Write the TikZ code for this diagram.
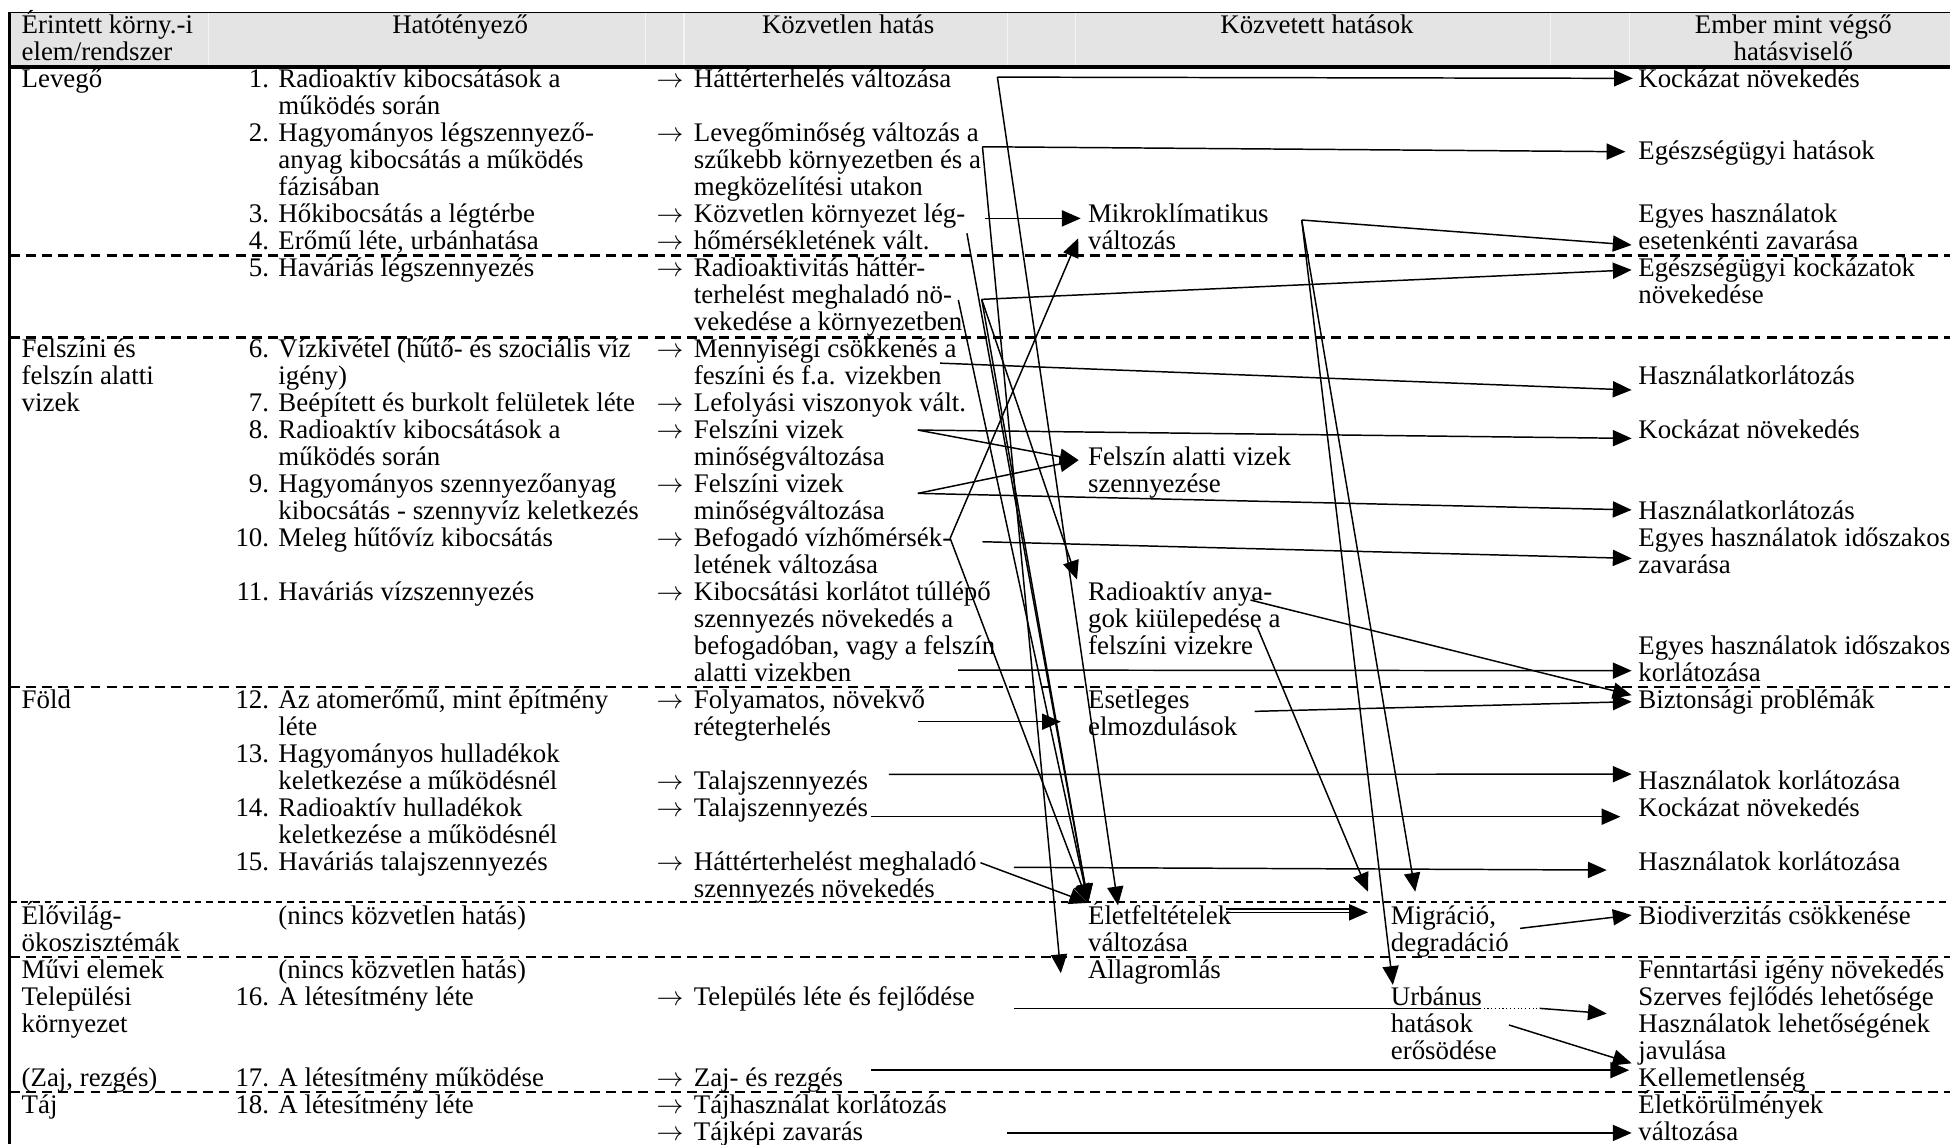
\documentclass[tikz,border=0pt]{standalone}
\usepackage{fontspec}
\setmainfont{Liberation Serif}
\usetikzlibrary{arrows.meta}
\definecolor{fejlec}{HTML}{E4E4E4}
\definecolor{fejlecvonal}{HTML}{F4F4F4}
\newcommand{\betu}{\fontsize{10pt}{10.05pt}\selectfont}
\newcommand{\nyil}{\llap{$\rightarrow$\hspace{3.9pt}}}
\newcommand{\szam}[1]{\llap{#1\hspace{3.5pt}}}
% tobbsoros csomopontoknal a base az utolso sor alapvonala
\tikzset{
  szoveg/.style={inner sep=0pt, anchor=base west, align=left, font=\betu},
  fejszoveg/.style={inner sep=0pt, anchor=base, align=center, font=\betu},
  hat/.style={-{Triangle[length=7pt,width=6pt]}, line width=0.55pt},
  vonal/.style={line width=0.55pt},
  pontozott/.style={line width=0.4pt, densely dotted},
  elvalaszto/.style={line width=0.9pt, dash pattern=on 3.7pt off 2.3pt},
  elvalasztovekony/.style={line width=0.6pt, dash pattern=on 2.5pt off 1.8pt}
}
\begin{document}
\begin{tikzpicture}[x=0.463pt, y=-0.463pt]
  \useasboundingbox (0,0) rectangle (1568,920);

  % fejlec
  \fill[fejlec] (8,10) rectangle (1568,54);
  \draw[fejlecvonal, line width=0.4pt] (168,10) -- (168,54) (519,10) -- (519,54)
    (550,10) -- (550,54) (810,10) -- (810,54) (865,10) -- (865,54)
    (1247,10) -- (1247,54) (1310,10) -- (1310,54);
  \draw[line width=0.6pt] (8,10) -- (1568,10);
  \draw[line width=1.5pt] (8,54) -- (1568,54);
  \draw[line width=1.1pt] (8,10) -- (8,920);

  \node[szoveg] (fe1) at (17,48.8) {Érintett körny.-i\\elem/rendszer};
  \node[fejszoveg] (fe2) at (370,27.1) {Hatótényező};
  \node[fejszoveg] (fe3) at (682,27.1) {Közvetlen hatás};
  \node[fejszoveg] (fe4) at (1059,27.1) {Közvetett hatások};
  \node[fejszoveg] (fe5) at (1442,48.8) {Ember mint végső\\hatásviselő};

  % elvalasztok
  \draw[elvalaszto] (8,205.5) -- (1568,205.5);
  \draw[elvalaszto] (8,271.5) -- (1568,271.5);
  \draw[elvalaszto] (8,552.5) -- (1568,552.5);
  \draw[elvalasztovekony] (8,725.5) -- (1568,725.5);
  \draw[elvalaszto] (8,769.5) -- (1568,769.5);
  \draw[elvalaszto] (8,878) -- (1568,878);

  % kornyezeti elemek
  \node[szoveg] (el1) at (17,70.5) {Levegő};
  \node[szoveg] (el2) at (17,330.9) {Felszíni és\\felszín alatti\\vizek};
  \node[szoveg] (el3) at (17,569.6) {Föld};
  \node[szoveg] (el4) at (17,764.9) {Élővilág-\\ökoszisztémák};
  \node[szoveg] (el5) at (17,830.0) {Művi elemek\\Települési\\környezet};
  \node[szoveg] (el6) at (17,873.4) {(Zaj, rezgés)};
  \node[szoveg] (el7) at (17,895.1) {Táj};

  % hatotenyezok
  \node[szoveg] (ht1) at (223.5,92.2) {\szam{1.}Radioaktív kibocsátások a\\működés során};
  \node[szoveg] (ht2) at (223.5,157.3) {\szam{2.}Hagyományos légszennyező-\\anyag kibocsátás a működés\\fázisában};
  \node[szoveg] (ht3) at (223.5,179.0) {\szam{3.}Hőkibocsátás a légtérbe};
  \node[szoveg] (ht4) at (223.5,200.7) {\szam{4.}Erőmű léte, urbánhatása};
  \node[szoveg] (ht5) at (223.5,222.4) {\szam{5.}Haváriás légszennyezés};
  \node[szoveg] (ht6) at (223.5,309.2) {\szam{6.}Vízkivétel (hűtő- és szociális víz\\igény)};
  \node[szoveg] (ht7) at (223.5,330.9) {\szam{7.}Beépített és burkolt felületek léte};
  \node[szoveg] (ht8) at (223.5,374.3) {\szam{8.}Radioaktív kibocsátások a\\működés során};
  \node[szoveg] (ht9) at (223.5,417.7) {\szam{9.}Hagyományos szennyezőanyag\\kibocsátás - szennyvíz keletkezés};
  \node[szoveg] (ht10) at (223.5,439.4) {\szam{10.}Meleg hűtővíz kibocsátás};
  \node[szoveg] (ht11) at (223.5,482.8) {\szam{11.}Haváriás vízszennyezés};
  \node[szoveg] (ht12) at (223.5,591.3) {\szam{12.}Az atomerőmű, mint építmény\\léte};
  \node[szoveg] (ht13) at (223.5,634.7) {\szam{13.}Hagyományos hulladékok\\keletkezése a működésnél};
  \node[szoveg] (ht14) at (223.5,678.1) {\szam{14.}Radioaktív hulladékok\\keletkezése a működésnél};
  \node[szoveg] (ht15) at (223.5,699.8) {\szam{15.}Haváriás talajszennyezés};
  \node[szoveg] (nk1) at (223.5,743.2) {(nincs közvetlen hatás)};
  \node[szoveg] (nk2) at (223.5,786.6) {(nincs közvetlen hatás)};
  \node[szoveg] (ht16) at (223.5,808.3) {\szam{16.}A létesítmény léte};
  \node[szoveg] (ht17) at (223.5,873.4) {\szam{17.}A létesítmény működése};
  \node[szoveg] (ht18) at (223.5,895.1) {\szam{18.}A létesítmény léte};

  % kozvetlen hatasok
  \node[szoveg] (kh1) at (557.5,70.5) {\nyil Háttérterhelés változása};
  \node[szoveg] (kh2) at (557.5,157.3) {\nyil Levegőminőség változás a\\szűkebb környezetben és a\\megközelítési utakon};
  \node[szoveg] (kh3) at (557.5,200.7) {\nyil Közvetlen környezet lég-\\\nyil hőmérsékletének vált.};
  \node[szoveg] (kh5) at (557.5,265.8) {\nyil Radioaktivitás háttér-\\terhelést meghaladó nö-\\vekedése a környezetben};
  \node[szoveg] (kh6) at (557.5,309.2) {\nyil Mennyiségi csökkenés a\\feszíni és f.a. vizekben};
  \node[szoveg] (kh7) at (557.5,330.9) {\nyil Lefolyási viszonyok vált.};
  \node[szoveg] (kh8) at (557.5,374.3) {\nyil Felszíni vizek\\minőségváltozása};
  \node[szoveg] (kh9) at (557.5,417.7) {\nyil Felszíni vizek\\minőségváltozása};
  \node[szoveg] (kh10) at (557.5,461.1) {\nyil Befogadó vízhőmérsék-\\letének változása};
  \node[szoveg] (kh11) at (557.5,547.9) {\nyil Kibocsátási korlátot túllépő\\szennyezés növekedés a\\befogadóban, vagy a felszín\\alatti vizekben};
  \node[szoveg] (kh12) at (557.5,591.3) {\nyil Folyamatos, növekvő\\rétegterhelés};
  \node[szoveg] (kh13) at (557.5,634.7) {\nyil Talajszennyezés};
  \node[szoveg] (kh14) at (557.5,656.4) {\nyil Talajszennyezés};
  \node[szoveg] (kh15) at (557.5,721.5) {\nyil Háttérterhelést meghaladó\\szennyezés növekedés};
  \node[szoveg] (kh16) at (557.5,808.3) {\nyil Település léte és fejlődése};
  \node[szoveg] (kh17) at (557.5,873.4) {\nyil Zaj- és rezgés};
  \node[szoveg] (kh18) at (557.5,916.8) {\nyil Tájhasználat korlátozás\\\nyil Tájképi zavarás};

  % kozvetett hatasok
  \node[szoveg] (kv1) at (874.5,200.7) {Mikroklímatikus\\változás};
  \node[szoveg] (kv2) at (874.5,396.0) {Felszín alatti vizek\\szennyezése};
  \node[szoveg] (kv3) at (874.5,526.2) {Radioaktív anya-\\gok kiülepedése a\\felszíni vizekre};
  \node[szoveg] (kv4) at (874.5,591.3) {Esetleges\\elmozdulások};
  \node[szoveg] (kv5) at (874.5,764.9) {Életfeltételek\\változása};
  \node[szoveg] (kv6) at (874.5,786.6) {Allagromlás};
  \node[szoveg] (kv7) at (1118,764.9) {Migráció,\\degradáció};
  \node[szoveg] (kv8) at (1118,851.7) {Urbánus\\hatások\\erősödése};

  % ember mint vegso hatasviselo
  \node[szoveg] (em1) at (1317,70.5) {Kockázat növekedés};
  \node[szoveg] (em2) at (1317,128) {Egészségügyi hatások};
  \node[szoveg] (em3) at (1317,200.7) {Egyes használatok\\esetenkénti zavarása};
  \node[szoveg] (em4) at (1317,244.1) {Egészségügyi kockázatok\\növekedése};
  \node[szoveg] (em5) at (1317,309.2) {Használatkorlátozás};
  \node[szoveg] (em6) at (1317,352.6) {Kockázat növekedés};
  \node[szoveg] (em7) at (1317,417.7) {Használatkorlátozás};
  \node[szoveg] (em8) at (1317,461.1) {Egyes használatok időszakos\\zavarása};
  \node[szoveg] (em9) at (1317,547.9) {Egyes használatok időszakos\\korlátozása};
  \node[szoveg] (em10) at (1317,569.6) {Biztonsági problémák};
  \node[szoveg] (em11) at (1317,634.7) {Használatok korlátozása};
  \node[szoveg] (em12) at (1317,656.4) {Kockázat növekedés};
  \node[szoveg] (em13) at (1317,699.8) {Használatok korlátozása};
  \node[szoveg] (em14) at (1317,743.2) {Biodiverzitás csökkenése};
  \node[szoveg] (em15) at (1317,786.6) {Fenntartási igény növekedés};
  \node[szoveg] (em16) at (1317,808.3) {Szerves fejlődés lehetősége};
  \node[szoveg] (em17) at (1317,851.7) {Használatok lehetőségének\\javulása};
  \node[szoveg] (em18) at (1317,873.4) {Kellemetlenség};
  \node[szoveg] (em19) at (1317,916.8) {Életkörülmények\\változása};

  % vonalak kezdopontjai
  \coordinate (a1) at (802,62);
  \coordinate (a2) at (790,118);
  \coordinate (a3) at (792,175.6);
  \coordinate (a4) at (777.5,187.6);
  \coordinate (a5) at (770.6,241.2);
  \coordinate (a6) at (789.4,240.7);
  \coordinate (a7) at (756,292);
  \coordinate (a8) at (738,345.8);
  \coordinate (a9) at (738,396.7);
  \coordinate (a10) at (764,432.8);
  \coordinate (a11) at (790,435.6);
  \coordinate (a12) at (770.4,538.8);
  \coordinate (a13) at (738,580.3);
  \coordinate (a14) at (714.7,622.7);
  \coordinate (a15) at (700.4,656.7);
  \coordinate (a16) at (788.4,693.7);
  \coordinate (a17) at (815.2,697.4);
  \coordinate (a18) at (815.2,810.8);
  \coordinate (a19) at (700.4,860.5);
  \coordinate (a20) at (809.8,911);
  \coordinate (b1) at (1046.7,176.9);
  \coordinate (b2) at (1005.5,482.5);
  \coordinate (b3) at (1010.8,504);
  \coordinate (b4) at (1008.8,572);
  \coordinate (b5) at (986,733.6);
  \coordinate (b5b) at (986,730.8);
  \coordinate (b6) at (1222.3,746.5);
  \coordinate (b7) at (1213.4,824.2);
  \coordinate (b8) at (1190,810.8);
  \coordinate (b9) at (1238,810.8);

  % nyilhegyek
  \coordinate (v1) at (869,175.6);
  \coordinate (v2) at (867,191.6);
  \coordinate (v3) at (867.3,370);
  \coordinate (v4) at (866,466);
  \coordinate (v5) at (853,580.3);
  \coordinate (v6) at (875,726);
  \coordinate (v7) at (899,728);
  \coordinate (v8) at (853,782.5);
  \coordinate (v9) at (1100,717);
  \coordinate (v10) at (1138,717);
  \coordinate (v11) at (1100,733.6);
  \coordinate (v11b) at (1090,730.8);
  \coordinate (v12) at (1120,792);
  \coordinate (e1) at (1313,63);
  \coordinate (e2) at (1307,122);
  \coordinate (e3) at (1312,197);
  \coordinate (e4) at (1312,217);
  \coordinate (e5) at (1312,313.6);
  \coordinate (e6) at (1312,352.5);
  \coordinate (e7) at (1312,410);
  \coordinate (e8) at (1312,449);
  \coordinate (e9) at (1312,539.3);
  \coordinate (e10) at (1312,559);
  \coordinate (e11) at (1312,564.2);
  \coordinate (e12) at (1312,622.5);
  \coordinate (e13) at (1303,656.7);
  \coordinate (e14) at (1292,699.6);
  \coordinate (e15) at (1312,735.8);
  \coordinate (e16) at (1292,815);
  \coordinate (e17) at (1312,855);
  \coordinate (e18) at (1310,860.5);
  \coordinate (e19) at (1312,911);

  % kapcsolatok
  \draw[hat] (a1) -- (e1);
  \draw[hat] (a1) -- (v7);
  \draw[hat] (a2) -- (e2);
  \draw[hat] (a2) -- (v8);
  \draw[hat] (a3) -- (v1);
  \draw[hat] (a4) -- (v6);
  \draw[hat] (a5) -- (v6);
  \draw[hat] (a6) -- (e4);
  \draw[hat] (a6) -- (v4);
  \draw[hat] (a6) -- (v6);
  \draw[hat] (a7) -- (e5);
  \draw[hat] (a8) -- (v3);
  \draw[hat] (a8) -- (e6);
  \draw[hat] (a9) -- (v3);
  \draw[hat] (a9) -- (e7);
  \draw[hat] (a10) -- (v2);
  \draw[hat] (a10) -- (v6);
  \draw[hat] (a11) -- (e8);
  \draw[hat] (a12) -- (e9);
  \draw[hat] (a13) -- (v5);
  \draw[hat] (a14) -- (e12);
  \draw[hat] (a15) -- (e13);
  \draw[hat] (a16) -- (v6);
  \draw[hat] (a17) -- (e14);
  \draw[vonal] (a18) -- (b8);
  \draw[pontozott] (b8) -- (b9);
  \draw[hat] (b9) -- (e16);
  \draw[hat] (a19) -- (e18);
  \draw[hat] (a20) -- (e19);
  \draw[hat] (b1) -- (e3);
  \draw[hat] (b1) -- (v10);
  \draw[hat] (b1) -- (v12);
  \draw[hat] (b2) -- (e10);
  \draw[hat] (b3) -- (v9);
  \draw[hat] (b4) -- (e11);
  \draw[hat] (b5) -- (v11);
  \draw[vonal] (b5b) -- (v11b);
  \draw[hat] (b6) -- (e15);
  \draw[hat] (b7) -- (e17);
\end{tikzpicture}
\end{document}
